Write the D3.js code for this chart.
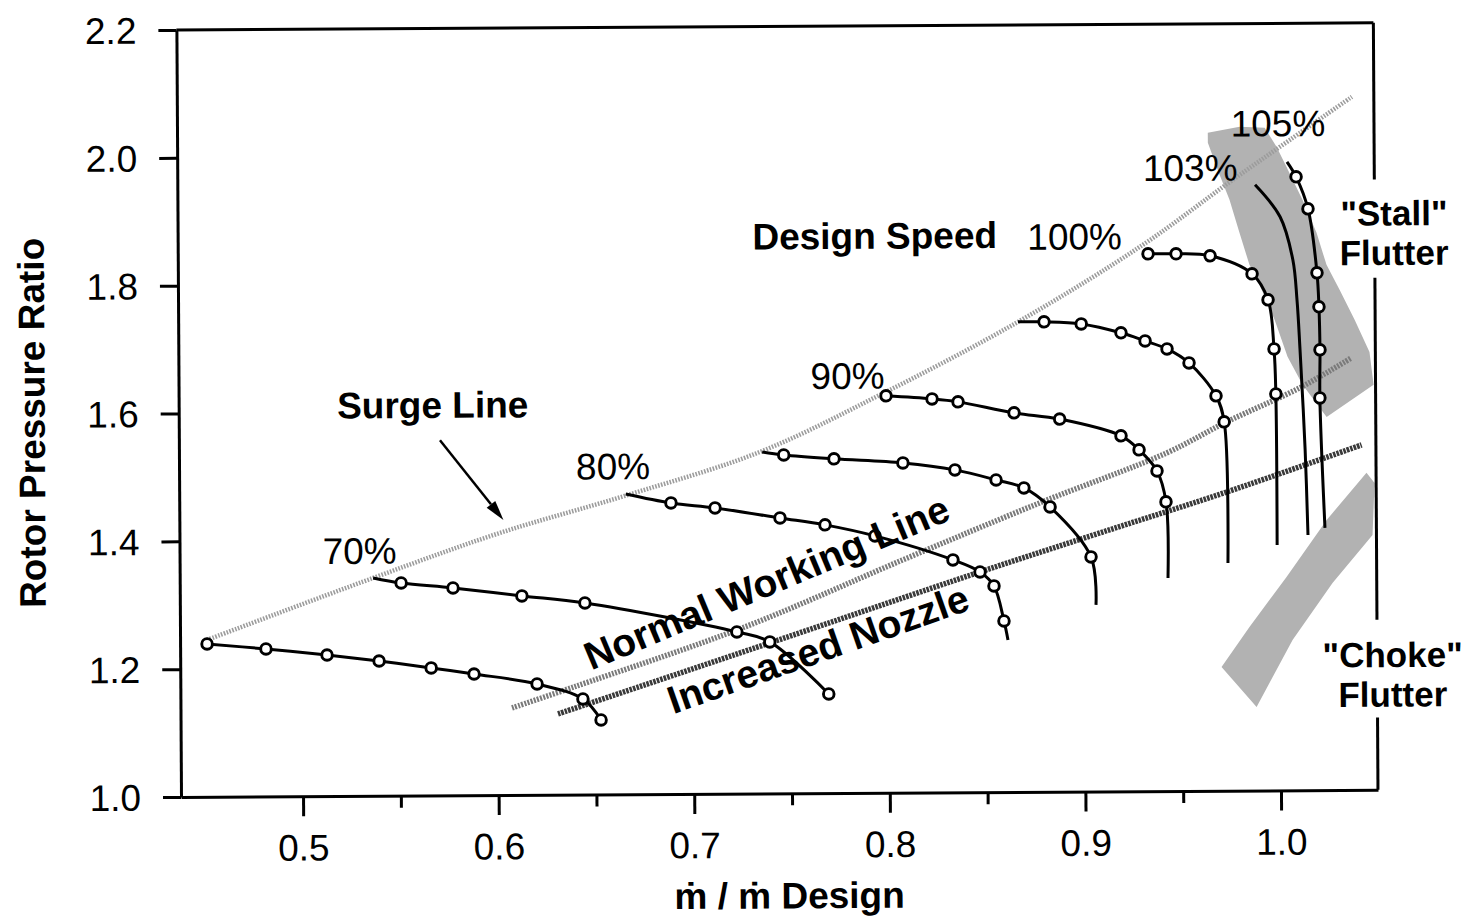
<!DOCTYPE html>
<html><head><meta charset="utf-8">
<script src="https://cdn.jsdelivr.net/npm/d3@7"></script>
<style>
body{margin:0;background:#fff}
svg{display:block}
text{font-family:"Liberation Sans",Arial,Helvetica,sans-serif;fill:#000}
</style>
</head><body>
<svg id="c" width="1475" height="922"></svg>
<script>
// ---------------- data ----------------
const xTicksMajor = [0.5, 0.6, 0.7, 0.8, 0.9, 1.0];
const xTicksMinor = [0.55, 0.65, 0.75, 0.85, 0.95];
const yTicks = [1.0, 1.2, 1.4, 1.6, 1.8, 2.0, 2.2];

// speed lines: x = mdot/mdot design, y = rotor pressure ratio, m = 1 where a test point circle is drawn
const lineA_x = [0.4514,0.4815,0.5127,0.5393,0.5659,0.5878,0.6200,0.6434,0.6526];
const lineA_y = [1.2392,1.2308,1.2208,1.2109,1.1996,1.1897,1.1735,1.1496,1.1166];
const lineA_m = [1,1,1,1,1,1,1,1,1];

const line70_x = [0.5365,0.5508,0.5773,0.6125,0.6447,0.7223,0.7391,0.7691];
const line70_y = [1.3409,1.3328,1.3245,1.3114,1.2998,1.2530,1.2371,1.1551];
const line70_m = [0,1,1,1,1,1,1,1];

const line80_x = [0.6659,0.6890,0.7115,0.7447,0.7677,0.7932,0.8330,0.8468,0.8539,0.8589,0.8609];
const line80_y = [1.4700,1.4555,1.4473,1.4310,1.4197,1.4020,1.3637,1.3446,1.3226,1.2677,1.2379];
const line80_m = [0,1,1,1,1,1,1,1,1,1,0];

const line85_x = [0.7358,0.7468,0.7725,0.8077,0.8343,0.8553,0.8695,0.8828,0.9036,0.9060];
const line85_y = [1.5344,1.5295,1.5229,1.5159,1.5045,1.4884,1.4757,1.4457,1.3671,1.2919];
const line85_m = [0,1,1,1,1,1,1,1,1,0];

const line90_x = [0.7993,0.8228,0.8361,0.8647,0.8880,0.9193,0.9285,0.9376,0.9421,0.9429];
const line90_y = [1.6210,1.6158,1.6109,1.5932,1.5830,1.5562,1.5341,1.5010,1.4525,1.3334];
const line90_m = [1,1,1,1,1,1,1,1,1,0];

const line95_x = [0.8670,0.8803,0.8993,0.9196,0.9319,0.9431,0.9543,0.9680,0.9721,0.9736];
const line95_y = [1.7355,1.7353,1.7317,1.7174,1.7045,1.6918,1.6697,1.6179,1.5771,1.3564];
const line95_m = [0,1,1,1,1,1,1,1,1,0];

const line100_x = [0.9337,0.9480,0.9654,0.9868,0.9949,0.9978,0.9986,0.9988];
const line100_y = [1.8407,1.8405,1.8370,1.8084,1.7676,1.6908,1.6204,1.3841];
const line100_m = [1,1,1,1,1,1,1,0];

const line103_x = [0.9886,1.0013,1.0077,1.0097,1.0111,1.0134,1.0146];
const line103_y = [1.9477,1.8974,1.8300,1.7673,1.6891,1.5325,1.3994];
const line103_m = [0,0,0,0,0,0,0];

const line105_x = [1.0050,1.0096,1.0156,1.0200,1.0209,1.0213,1.0211,1.0233];
const line105_y = [1.9833,1.9598,1.9096,1.8094,1.7562,1.6889,1.6137,1.4103];
const line105_m = [0,1,1,1,1,1,1,0];

// operating lines
const surge_x = [0.4514,0.5365,0.6015,0.6670,0.7347,0.7962,0.8670,0.9311,0.9758,1.0066,1.0384];
const surge_y = [1.2455,1.3409,1.4102,1.4684,1.5345,1.6225,1.7355,1.8549,1.9526,2.0178,2.0845];
const workLine_x = [0.6071,0.6388,0.7264,0.8073,0.8775,0.9426,0.9734,1.0108,1.0373];
const workLine_y = [1.1362,1.1685,1.2608,1.3641,1.4520,1.5291,1.5771,1.6296,1.6760];
const nozzle_x = [0.6306,0.7391,0.8468,0.9083,0.9733,1.0423];
const nozzle_y = [1.1264,1.2355,1.3446,1.4046,1.4675,1.5398];

// flutter regions (outline)
const stall_x = [0.9646,0.9809,0.9937,0.9997,1.0047,1.0128,1.0199,1.0249,1.0315,1.0391,1.0466,1.0486,1.0245,1.0123,1.0047,0.9982,0.9906,0.9855,0.9805,0.9755,0.9705,0.9646];
const stall_y = [2.0296,2.0387,2.0368,2.0070,1.9756,1.9238,1.8720,1.8218,1.7826,1.7355,1.6852,1.6336,1.5839,1.6343,1.6782,1.7362,1.7912,1.8226,1.8728,1.9245,1.9636,2.0139];
const choke_x = [1.0447,1.0488,1.0476,1.0270,1.0064,0.9878,0.9700,0.9844,1.0035,1.0242];
const choke_y = [1.4960,1.4802,1.3988,1.3241,1.2353,1.1308,1.1937,1.2561,1.3339,1.4227];

// ---------------- layout ----------------
const svg = d3.select("#c");
const x = d3.scaleLinear().domain([0.4376, 1.0496]).range([181, 1378]);
const y = d3.scaleLinear().domain([1.0, 2.2]).range([797, 30]);
const g = svg.append("g").attr("transform", "rotate(-0.344,181,797)");

const zip = (xs, ys) => xs.map((v, i) => [v, ys[i]]);
const curve = d3.line().x(d => x(d[0])).y(d => y(d[1])).curve(d3.curveCatmullRom.alpha(0.5));
const poly = d3.line().x(d => x(d[0])).y(d => y(d[1])).curve(d3.curveLinearClosed);

// regions
g.append("path").attr("d", poly(zip(stall_x, stall_y))).attr("fill", "#b2b2b2");
g.append("path").attr("d", poly(zip(choke_x, choke_y))).attr("fill", "#b2b2b2");

// stippled operating lines
g.append("path").attr("d", curve(zip(surge_x, surge_y))).attr("fill", "none")
  .attr("stroke", "#9c9c9c").attr("stroke-width", 4.5).attr("stroke-dasharray", "1.6 1.4");
g.append("path").attr("d", curve(zip(workLine_x, workLine_y))).attr("fill", "none")
  .attr("stroke", "#7a7a7a").attr("stroke-width", 5.5).attr("stroke-dasharray", "2 1.3");
g.append("path").attr("d", curve(zip(nozzle_x, nozzle_y))).attr("fill", "none")
  .attr("stroke", "#3a3a3a").attr("stroke-width", 5.5).attr("stroke-dasharray", "2.6 1");

// speed lines
const speeds = [
  [lineA_x, lineA_y, lineA_m], [line70_x, line70_y, line70_m], [line80_x, line80_y, line80_m],
  [line85_x, line85_y, line85_m], [line90_x, line90_y, line90_m], [line95_x, line95_y, line95_m],
  [line100_x, line100_y, line100_m], [line103_x, line103_y, line103_m], [line105_x, line105_y, line105_m]
];
speeds.forEach(([xs, ys, ms]) => {
  const pts = zip(xs, ys);
  g.append("path").attr("d", curve(pts)).attr("fill", "none").attr("stroke", "#000").attr("stroke-width", 3);
  g.selectAll(null).data(pts.filter((p, i) => ms[i])).enter().append("circle")
    .attr("cx", d => x(d[0])).attr("cy", d => y(d[1])).attr("r", 5.3)
    .attr("fill", "#fff").attr("stroke", "#000").attr("stroke-width", 2.9);
});

// axes
const yAxis = d3.axisLeft(y).tickValues(yTicks).tickSize(18).tickSizeOuter(0).tickPadding(22).tickFormat(d3.format(".1f"));
const ya = g.append("g").attr("transform", `translate(${x.range()[0]},0)`).call(yAxis);
const xAxis = d3.axisBottom(x).tickValues(xTicksMajor).tickSize(20).tickSizeOuter(0).tickPadding(18).tickFormat(d3.format(".1f"));
const xa = g.append("g").attr("transform", `translate(0,${y.range()[0]})`).call(xAxis);
const xm = g.append("g").attr("transform", `translate(0,${y.range()[0]})`)
  .call(d3.axisBottom(x).tickValues(xTicksMinor).tickSize(12).tickSizeOuter(0).tickFormat(""));
xm.select(".domain").remove();
[ya, xa, xm].forEach(a => {
  a.attr("font-family", null).attr("font-size", null);
  a.selectAll("path,line").attr("stroke", "#000").attr("stroke-width", 3);
  a.selectAll("text").attr("font-size", 37).attr("fill", "#000");
});
ya.selectAll("text").attr("dy", "0.35em");

// frame top and right (right side broken for the flutter labels)
const [x0, x1] = x.domain();
g.append("line").attr("x1", x(x0)).attr("x2", x(x1)).attr("y1", y(2.2)).attr("y2", y(2.2))
  .attr("stroke", "#000").attr("stroke-width", 3);
[[2.2, 1.955], [1.801, 1.266], [1.113, 1.0]].forEach(([a, b]) => {
  g.append("line").attr("x1", x(x1)).attr("x2", x(x1)).attr("y1", y(a)).attr("y2", y(b))
    .attr("stroke", "#000").attr("stroke-width", 3);
});

// labels
function label(t, px, py, opts = {}) {
  const el = g.append("text").attr("x", x(px)).attr("y", y(py))
    .attr("font-size", opts.size || 37)
    .attr("font-weight", opts.bold ? "bold" : "normal")
    .attr("text-anchor", opts.anchor || "middle");
  const lines = Array.isArray(t) ? t : [t];
  if (lines.length === 1) el.text(lines[0]);
  else lines.forEach((s, i) => el.append("tspan").attr("x", x(px)).attr("dy", i ? (opts.lh || 37) : 0).text(s));
  if (opts.rot) el.attr("transform", `rotate(${opts.rot},${x(px)},${y(py)})`);
  return el;
}
label("70%", 0.5297, 1.3631);
label("80%", 0.6595, 1.4930);
label("90%", 0.7797, 1.6322);
label("Design Speed", 0.7940, 1.8513, {bold: true});
label("100%", 0.8962, 1.8482);
label("103%", 0.9555, 1.9546);
label("105%", 1.0005, 2.0235);
label("Surge Line", 0.5675, 1.5908, {bold: true});
label(["\"Stall\"", "Flutter"], 1.0595, 1.8830, {bold: true, size: 35, lh: 39.6});
label(["\"Choke\"", "Flutter"], 1.0575, 1.1920, {bold: true, size: 35, lh: 39.6});
label("Normal Working Line", 0.6478, 1.1940, {bold: true, anchor: "start", rot: -22.4, size: 39});
label("Increased Nozzle", 0.6895, 1.1250, {bold: true, anchor: "start", rot: -19.0, size: 39});

// arrow to surge line
const arrowFrom = [0.5711, 1.5556], arrowTo = [0.6033, 1.4304];
const ax0 = x(arrowFrom[0]), ay0 = y(arrowFrom[1]), ax1 = x(arrowTo[0]), ay1 = y(arrowTo[1]);
const ang = Math.atan2(ay1 - ay0, ax1 - ax0);
const hl = 20, hw = 5.5;
const bx = ax1 - hl * Math.cos(ang), by = ay1 - hl * Math.sin(ang);
g.append("line").attr("x1", ax0).attr("y1", ay0).attr("x2", bx).attr("y2", by)
  .attr("stroke", "#000").attr("stroke-width", 2.5);
g.append("path").attr("d", `M${ax1},${ay1}L${bx - hw * Math.sin(ang)},${by + hw * Math.cos(ang)}L${bx + hw * Math.sin(ang)},${by - hw * Math.cos(ang)}Z`)
  .attr("fill", "#000");

// axis titles
g.append("text").attr("x", 789).attr("y", 912)
  .attr("text-anchor", "middle").attr("font-size", 37).attr("font-weight", "bold").text("ṁ / ṁ Design");
g.append("text").attr("transform", "translate(47,422) rotate(-90)")
  .attr("text-anchor", "middle").attr("font-size", 37).attr("font-weight", "bold").text("Rotor Pressure Ratio");
</script>
</body></html>
